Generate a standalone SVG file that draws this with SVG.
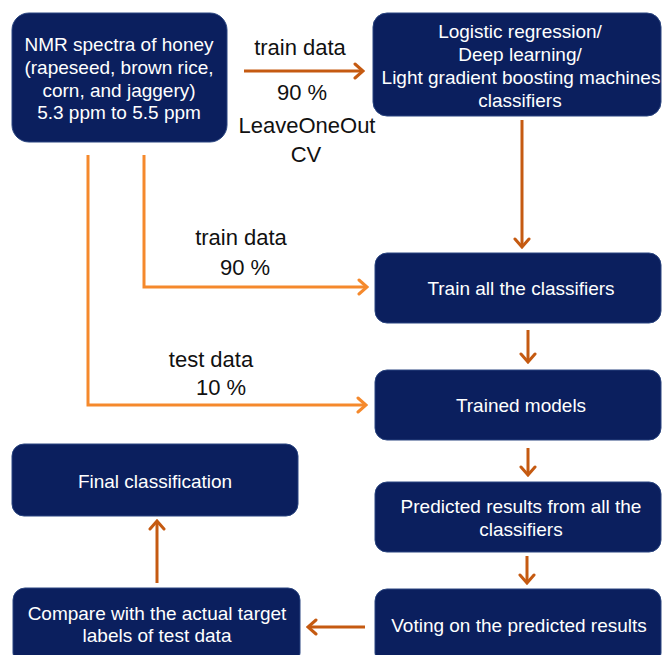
<svg xmlns="http://www.w3.org/2000/svg" width="662" height="655" viewBox="0 0 662 655">
  <style>
    .box { fill: #0b1f5e; stroke: #2a4580; stroke-width: 1; }
    .nt { fill: #ffffff; font-family: "Liberation Sans", Arial, sans-serif; font-size: 19px; text-anchor: middle; }
    .lb { fill: #111111; font-family: "Liberation Sans", Arial, sans-serif; font-size: 22px; text-anchor: middle; }
    .dk { fill: none; stroke: #c55a11; stroke-width: 3; }
    .lt { fill: none; stroke: #f5892c; stroke-width: 3; stroke-linejoin: miter; }
  </style>
  <defs>
    <marker id="headDark" viewBox="-10 -9 12 18" refX="0" refY="0" markerWidth="12" markerHeight="18" markerUnits="userSpaceOnUse" orient="auto">
      <path d="M-8,-7 L0,0 L-8,7" fill="none" stroke="#c55a11" stroke-width="3" stroke-linecap="round" stroke-linejoin="miter"/>
    </marker>
    <marker id="headLight" viewBox="-10 -9 12 18" refX="0" refY="0" markerWidth="12" markerHeight="18" markerUnits="userSpaceOnUse" orient="auto">
      <path d="M-8,-7 L0,0 L-8,7" fill="none" stroke="#f5892c" stroke-width="3" stroke-linecap="round" stroke-linejoin="miter"/>
    </marker>
  </defs>

  <rect width="662" height="655" fill="#ffffff"/>

  <!-- connectors -->
  <g id="connectors">
    <line class="dk" x1="244" y1="71" x2="363" y2="71" marker-end="url(#headDark)"/>
    <line class="dk" x1="522" y1="120" x2="522" y2="247" marker-end="url(#headDark)"/>
    <line class="dk" x1="528" y1="330" x2="528" y2="362" marker-end="url(#headDark)"/>
    <line class="dk" x1="528" y1="448" x2="528" y2="475" marker-end="url(#headDark)"/>
    <line class="dk" x1="527" y1="556" x2="527" y2="583" marker-end="url(#headDark)"/>
    <line class="dk" x1="365" y1="627" x2="308" y2="627" marker-end="url(#headDark)"/>
    <line class="dk" x1="157" y1="583" x2="157" y2="521" marker-end="url(#headDark)"/>
    <polyline class="lt" points="144,155 144,287 367,287" marker-end="url(#headLight)"/>
    <polyline class="lt" points="88,155 88,405 366,405" marker-end="url(#headLight)"/>
  </g>

  <!-- edge labels -->
  <g id="labels">
    <text class="lb" x="300" y="55">train data</text>
    <text class="lb" x="302" y="100">90 %</text>
    <text class="lb" x="307" y="133">LeaveOneOut</text>
    <text class="lb" x="306" y="162">CV</text>
    <text class="lb" x="241" y="245">train data</text>
    <text class="lb" x="245" y="275">90 %</text>
    <text class="lb" x="211" y="367">test data</text>
    <text class="lb" x="221" y="395">10 %</text>
  </g>

  <g id="nmr-spectra">
    <rect class="box" x="12" y="13" width="215" height="129" rx="17"/>
    <text class="nt" x="119" y="51">NMR spectra of honey</text>
    <text class="nt" x="119" y="74">(rapeseed, brown rice,</text>
    <text class="nt" x="119" y="97">corn, and jaggery)</text>
    <text class="nt" x="119" y="119">5.3 ppm to 5.5 ppm</text>
  </g>

  <g id="classifiers">
    <rect class="box" x="373" y="13" width="288" height="103" rx="14"/>
    <text class="nt" x="520" y="38">Logistic regression/</text>
    <text class="nt" x="520" y="61">Deep learning/</text>
    <text class="nt" x="521" y="84">Light gradient boosting machines</text>
    <text class="nt" x="520" y="107">classifiers</text>
  </g>

  <g id="train-classifiers">
    <rect class="box" x="375" y="253" width="286" height="70" rx="12"/>
    <text class="nt" x="521" y="295">Train all the classifiers</text>
  </g>

  <g id="trained-models">
    <rect class="box" x="375" y="370" width="286" height="70" rx="12"/>
    <text class="nt" x="521" y="412">Trained models</text>
  </g>

  <g id="predicted-results">
    <rect class="box" x="375" y="482" width="286" height="70" rx="12"/>
    <text class="nt" x="521" y="513">Predicted results from all the</text>
    <text class="nt" x="521" y="536">classifiers</text>
  </g>

  <g id="voting">
    <rect class="box" x="375" y="589" width="286" height="76" rx="12"/>
    <text class="nt" x="519" y="632">Voting on the predicted results</text>
  </g>

  <g id="final-classification">
    <rect class="box" x="12" y="444" width="286" height="72" rx="12"/>
    <text class="nt" x="155" y="488">Final classification</text>
  </g>

  <g id="compare">
    <rect class="box" x="13" y="588" width="287" height="77" rx="12"/>
    <text class="nt" x="157" y="620">Compare with the actual target</text>
    <text class="nt" x="157" y="642">labels of test data</text>
  </g>
</svg>
